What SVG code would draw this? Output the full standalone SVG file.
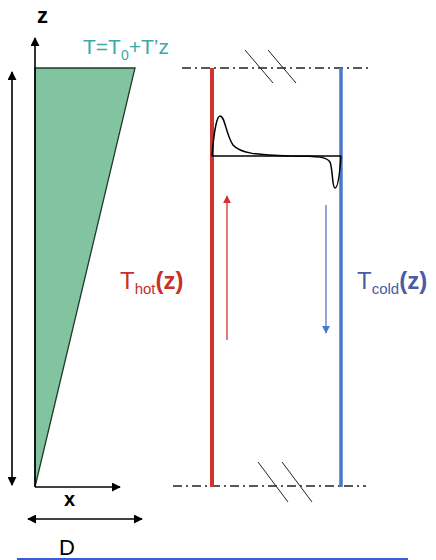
<svg xmlns="http://www.w3.org/2000/svg" width="436" height="560" viewBox="0 0 436 560">
<style>
.ax{stroke:#000;stroke-width:1.6;fill:none}
.dd{stroke:#222;stroke-width:1.3;stroke-dasharray:9,4,2,4;fill:none}
.sl{stroke:#222;stroke-width:1;fill:none}
text{font-family:"Liberation Sans",Arial,sans-serif}
</style>
<defs>
<marker id="ah" viewBox="0 0 10 10" refX="9" refY="5" markerWidth="9" markerHeight="9" markerUnits="userSpaceOnUse" orient="auto-start-reverse"><path d="M0,0 L10,5 L0,10 z" fill="#000"/></marker>
<marker id="ar" viewBox="0 0 10 10" refX="9" refY="5" markerWidth="8" markerHeight="8" markerUnits="userSpaceOnUse" orient="auto"><path d="M0,0 L10,5 L0,10 z" fill="#D0342C"/></marker>
<marker id="ab" viewBox="0 0 10 10" refX="9" refY="5" markerWidth="8" markerHeight="8" markerUnits="userSpaceOnUse" orient="auto"><path d="M0,0 L10,5 L0,10 z" fill="#4A78C8"/></marker>
</defs>
<rect width="436" height="560" fill="#fff"/>
<g id="profile">
<polygon points="35,68 135,68 35,487" fill="#82C3A0" stroke="#1f3a2a" stroke-width="1.3"/>
</g>
<g id="connectors">
<line class="ax" x1="35" y1="487" x2="35" y2="38" marker-end="url(#ah)"/>
<line class="ax" x1="35" y1="487" x2="120" y2="487" marker-end="url(#ah)"/>
<line class="ax" x1="12" y1="72" x2="12" y2="485" marker-start="url(#ah)" marker-end="url(#ah)"/>
<line class="ax" x1="28" y1="519" x2="142" y2="519" marker-start="url(#ah)" marker-end="url(#ah)"/>
<line class="dd" x1="182" y1="68" x2="372" y2="68"/>
<line class="dd" x1="173" y1="486" x2="366" y2="486"/>
<line class="sl" x1="245" y1="50" x2="273" y2="83"/>
<line class="sl" x1="268" y1="50" x2="296" y2="83"/>
<line class="sl" x1="258" y1="462" x2="288" y2="502"/>
<line class="sl" x1="282" y1="462" x2="312" y2="502"/>
<line x1="227" y1="340" x2="227" y2="196" stroke="#D0342C" stroke-width="1.3" marker-end="url(#ar)"/>
<line x1="326" y1="205" x2="326" y2="333" stroke="#4A78C8" stroke-width="1.3" marker-end="url(#ab)"/>
</g>
<g id="hot-wall"><line x1="212" y1="68" x2="212" y2="487" stroke="#D0342C" stroke-width="4"/></g>
<g id="cold-wall"><line x1="341" y1="68" x2="341" y2="487" stroke="#4A78C8" stroke-width="3.5"/></g>
<g id="velocity-profile">
<line x1="212" y1="156" x2="341" y2="156" stroke="#000" stroke-width="1.5"/>
<path d="M212,156 C214,130 217,116 220,116 C225,116 226,135 233,145 C240,153 255,155 290,156 C320,156 327,157 330,162 C333,170 332,188 335,188 C338,188 340,170 341,156" fill="none" stroke="#000" stroke-width="1.5"/>
</g>
<g id="labels">
<text x="37" y="23" font-size="22" font-weight="bold">z</text>
<text x="83" y="54" font-size="21" fill="#3CA8A8">T=T<tspan font-size="14" dy="6">0</tspan><tspan dy="-6">+T’z</tspan></text>
<text x="64" y="506" font-size="20" font-weight="bold">x</text>
<text x="59" y="555" font-size="22">D</text>
<text x="120" y="289" font-size="24" fill="#C8302B">T<tspan font-size="15" dy="5">hot</tspan><tspan dy="-5" font-weight="bold">(z)</tspan></text>
<text x="357" y="289" font-size="24" fill="#4A5BA8">T<tspan font-size="15" dy="5">cold</tspan><tspan dy="-5" font-weight="bold">(z)</tspan></text>
</g>
<line x1="17" y1="559" x2="408" y2="559" stroke="#3B5BDB" stroke-width="2"/>
</svg>
